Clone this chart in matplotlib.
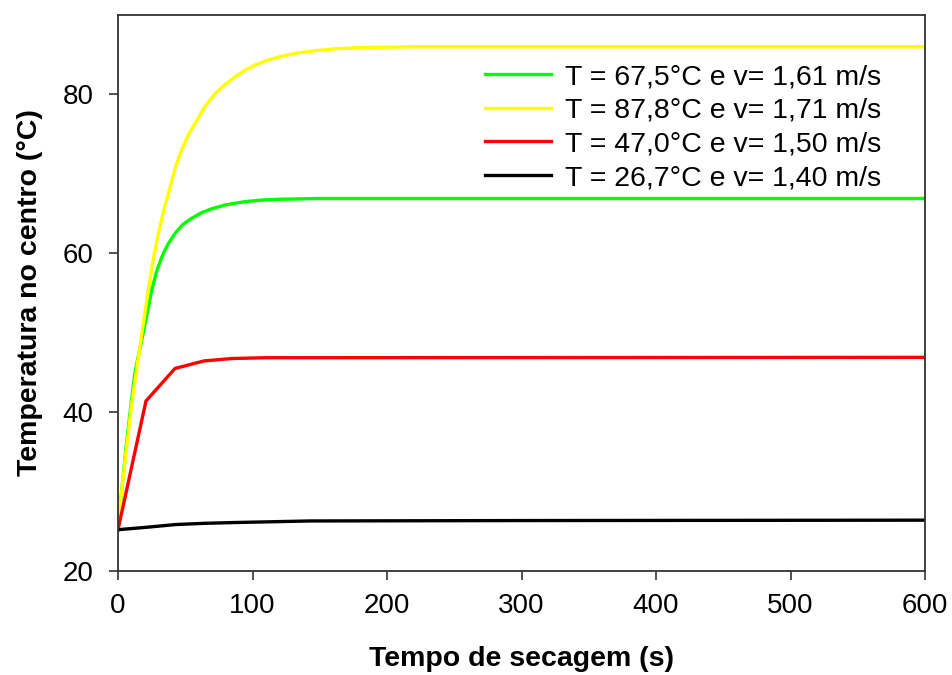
import matplotlib
matplotlib.use("Agg")
import matplotlib.pyplot as plt

plt.rcParams['font.family'] = ['Liberation Sans', 'DejaVu Sans']

# Data
t_green = [0, 3, 6, 9, 12.6, 18.8, 25, 28.5, 32.5, 37, 42.4, 48, 54.7, 62, 69.6, 80, 94.4, 107, 120, 150, 200, 600]
y_green = [25.2, 30.5, 35.6, 40.0, 45.0, 50.0, 55.3, 57.6, 59.5, 61.1, 62.5, 63.6, 64.4, 65.1, 65.6, 66.1, 66.5, 66.7, 66.8, 66.9, 66.9, 66.9]

t_yellow = [0, 3, 6.4, 10, 14.4, 18.5, 22.5, 26, 30, 34.5, 39, 43, 47.3, 52, 57.2, 64, 72.1, 80, 87, 94,
            101.9, 111, 121.7, 133, 146.5, 162, 180, 220, 600]
y_yellow = [25.2, 30.5, 35.6, 40.8, 46.0, 50.8, 55.3, 59.0, 62.5, 65.7, 68.5, 71.0, 73.0, 74.8, 76.3, 78.3, 80.1, 81.3, 82.2, 83.0,
            83.7, 84.3, 84.8, 85.2, 85.5, 85.75, 85.9, 86.0, 86.0]

t_red = [0, 20.8, 42.4, 64, 84.5, 110, 600]
y_red = [25.2, 41.4, 45.5, 46.45, 46.75, 46.85, 46.9]

t_black = [0, 21, 43, 64, 86, 143, 300, 600]
y_black = [25.2, 25.5, 25.85, 26.0, 26.1, 26.3, 26.35, 26.4]

labels = ["T = 67,5°C e v= 1,61 m/s", "T = 87,8°C e v= 1,71 m/s",
          "T = 47,0°C e v= 1,50 m/s", "T = 26,7°C e v= 1,40 m/s"]
colors = ["#00ff00", "#ffff00", "#ff0000", "#000000"]

fig = plt.figure(figsize=(9.52, 6.75), dpi=100)
ax = fig.add_axes([118/952, 1-571/675, (925-118)/952, (571-15)/675])

series = [(t_green, y_green), (t_yellow, y_yellow), (t_red, y_red), (t_black, y_black)]
for (t, y), c, lab in zip(series, colors, labels):
    ax.plot(t, y, color=c, lw=2.4, label=lab, solid_joinstyle='round')

ax.set_xlim(0, 600)
ax.set_ylim(20, 90)
ax.set_xticks(range(0, 601, 100))
ax.set_yticks([20, 40, 60, 80])
fs = 20
ax.tick_params(direction='out', length=6.5, width=1.2, color='#333333', labelsize=fs,
               top=False, right=False)
ax.tick_params(axis='x', pad=9)
ax.tick_params(axis='y', pad=11)
for s in ax.spines.values():
    s.set_color('#333333')
    s.set_linewidth(1.3)

ax.set_xlabel("Tempo de secagem (s)", fontsize=20.5, fontweight='bold', labelpad=20)
ax.set_ylabel("Temperatura no centro (°C)", fontsize=20.5, fontweight='bold', labelpad=14)

ax.legend(loc='upper left', bbox_to_anchor=(485/952, 1-64/675), bbox_transform=fig.transFigure,
          frameon=False, fontsize=20.5, handlelength=2.32, handletextpad=0.49,
          labelspacing=0.27, borderpad=0, borderaxespad=0)

fig.savefig("out.png", dpi=100)
